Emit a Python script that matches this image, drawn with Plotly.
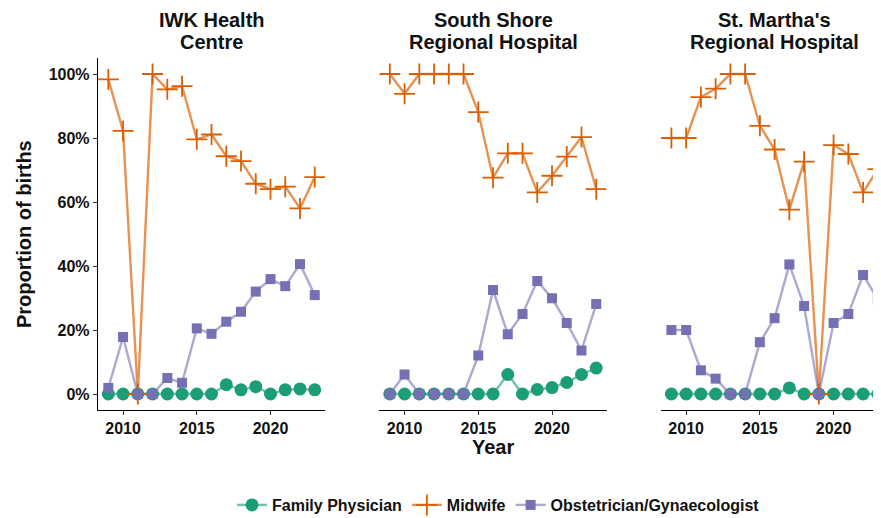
import plotly.graph_objects as go

years = list(range(2009, 2024))
hospitals = ["IWK Health\nCentre", "South Shore\nRegional Hospital", "St. Martha's\nRegional Hospital"]
categories = ["Family Physician", "Midwife", "Obstetrician/Gynaecologist"]

# values in percent
iwk_fp = [0, 0, 0, 0, 0, 0, 0, 0, 2.9, 1.3, 2.3, 0, 1.3, 1.6, 1.3]
iwk_mw = [98.3, 82.2, 0, 100, 95.2, 96.2, 79.6, 81.1, 74.3, 72.8, 65.7, 64.0, 64.8, 58.0, 67.8]
iwk_ob = [1.9, 17.8, 0, 0, 5.0, 3.5, 20.5, 18.8, 22.6, 25.7, 32.0, 35.9, 33.7, 40.6, 30.9]

ss_fp = [0, 0, 0, 0, 0, 0, 0, 0, 6.1, 0, 1.4, 2.0, 3.6, 6.1, 8.1]
ss_mw = [100, 93.8, 100, 100, 100, 100, 88.1, 67.6, 75.2, 75.2, 63.0, 68.2, 74.2, 80.3, 64.0]
ss_ob = [0, 6.1, 0, 0, 0, 0, 12.0, 32.5, 18.7, 25.0, 35.3, 29.9, 22.2, 13.6, 28.1]

sm_fp = [0, 0, 0, 0, 0, 0, 0, 0, 1.9, 0, 0, 0, 0, 0, 0]
sm_mw = [80.0, 80.0, 92.8, 95.4, 100, 100, 83.8, 76.4, 57.6, 72.6, 0, 77.8, 75.0, 63.0, 70.3]
sm_ob = [20.0, 20.0, 7.4, 4.8, 0, 0, 16.2, 23.7, 40.5, 27.5, 0, 22.2, 25.0, 37.2, 29.6]

y_ticks = [0, 20, 40, 60, 80, 100]
x_ticks = [2010, 2015, 2020]

data = [
    [iwk_fp, iwk_mw, iwk_ob],
    [ss_fp, ss_mw, ss_ob],
    [sm_fp, sm_mw, sm_ob],
]

colors = ["#1B9E77", "#D95F02", "#7570B3"]
line_colors = ["rgba(27,158,119,0.62)", "rgba(217,95,2,0.68)", "rgba(117,112,179,0.6)"]
FONT = "Liberation Sans, Arial, sans-serif"

marker_specs = [
    dict(symbol="circle", size=13, color=colors[0], line=dict(width=0)),
    dict(symbol="cross-thin", size=15, color=colors[1], line=dict(width=1.8, color=colors[1])),
    dict(symbol="square", size=10, color=colors[2], line=dict(width=0)),
]

fig = go.Figure()
axes = ["x", "x2", "x3"]
yaxes = ["y", "y2", "y3"]

# lines first (all groups), then points in group order
for p in range(3):
    for c in range(3):
        fig.add_trace(go.Scatter(x=years, y=data[p][c], mode="lines",
                                 line=dict(color=line_colors[c], width=2.4),
                                 xaxis=axes[p], yaxis=yaxes[p], showlegend=False,
                                 hoverinfo="skip"))
for c in range(3):
    for p in range(3):
        fig.add_trace(go.Scatter(x=years, y=data[p][c], mode="markers",
                                 marker=marker_specs[c],
                                 xaxis=axes[p], yaxis=yaxes[p], showlegend=False,
                                 name=categories[c]))
# legend entries
for c in range(3):
    fig.add_trace(go.Scatter(x=[None], y=[None], mode="lines+markers", name=categories[c],
                             line=dict(color=line_colors[c], width=2.4),
                             marker=marker_specs[c], xaxis="x", yaxis="y"))

FW, FH = 881, 518
OFF = 8  # page body margin in the browser
L, R_PX = 97.7 - OFF, 881 - OFF
TOP, BOT = 58.3 - OFF, 410.3 - OFF
W = R_PX - L
H = BOT - TOP
ppy = 14.75
pw = 15.4 * ppy
starts = [97.7 - OFF, 379.3 - OFF, 661.0 - OFF]
domains = []
ranges = []
for s in starts:
    d0 = (s - L) / W
    d1 = min(1.0, (s + pw - L) / W)
    domains.append([d0, d1])
    ranges.append([2008.3, 2008.3 + (min(s + pw, R_PX) - s) / ppy])

xcommon = dict(showgrid=False, zeroline=False, showline=True, linecolor="black", linewidth=1.4,
               ticks="outside", ticklen=4, tickwidth=1.4, tickcolor="#333333", automargin=False,
               tickvals=x_ticks, tickfont=dict(family=FONT, size=16, color="#111111", weight="bold"))
ycommon = dict(showgrid=False, zeroline=False, range=[-5, 105], automargin=False)

layout = dict(
    width=FW, height=FH,
    margin=dict(l=L, r=FW - R_PX, t=TOP, b=FH - BOT, autoexpand=False),
    paper_bgcolor="white", plot_bgcolor="white",
    font=dict(family=FONT, color="#111111"),
    showlegend=True,
    legend=dict(orientation="h", x=(232 - OFF) / FW, xanchor="left", xref="container",
                y=1 - (505 - OFF) / FH, yanchor="middle", yref="container",
                font=dict(family=FONT, size=16, color="#111111", weight="bold"),
                itemwidth=30, tracegroupgap=0, bgcolor="rgba(0,0,0,0)"),
)
for i in range(3):
    key = "xaxis" if i == 0 else f"xaxis{i+1}"
    ykey = "yaxis" if i == 0 else f"yaxis{i+1}"
    layout[key] = dict(xcommon, domain=domains[i], range=ranges[i], anchor=yaxes[i])
    if i == 0:
        layout[ykey] = dict(ycommon, anchor="x", showline=True, linecolor="black", linewidth=1.4,
                            ticks="outside", ticklen=4, tickwidth=1.4, tickcolor="#333333",
                            tickvals=y_ticks, ticktext=[f"{v}%" for v in y_ticks],
                            tickfont=dict(family=FONT, size=16, color="#111111", weight="bold"))
    else:
        layout[ykey] = dict(ycommon, anchor=axes[i], showline=False, showticklabels=False, ticks="")

fig.update_layout(**layout)

# facet titles (one annotation per line, tight line spacing)
centers = [(s + pw / 2 - L) / W for s in starts]
line_y = [19.8, 42.2]
for i, h in enumerate(hospitals):
    for j, t in enumerate(h.split("\n")):
        fig.add_annotation(text=t, x=centers[i], y=(BOT - (line_y[j] - OFF)) / H,
                           xref="paper", yref="paper", xanchor="center", yanchor="middle",
                           showarrow=False, borderpad=0,
                           font=dict(family=FONT, size=20, color="#111111", weight="bold"))
# axis titles
fig.add_annotation(text="Year", x=centers[1], y=(BOT - (447 - OFF)) / H, xref="paper", yref="paper",
                   xanchor="center", yanchor="middle", showarrow=False,
                   font=dict(family=FONT, size=20, color="#111111", weight="bold"))
fig.add_annotation(text="Proportion of births", x=((23 - OFF) - L) / W, y=(BOT - (234 - OFF)) / H,
                   xref="paper", yref="paper", textangle=-90,
                   xanchor="center", yanchor="middle", showarrow=False,
                   font=dict(family=FONT, size=20, color="#111111", weight="bold"))

fig.write_html("out.html")
